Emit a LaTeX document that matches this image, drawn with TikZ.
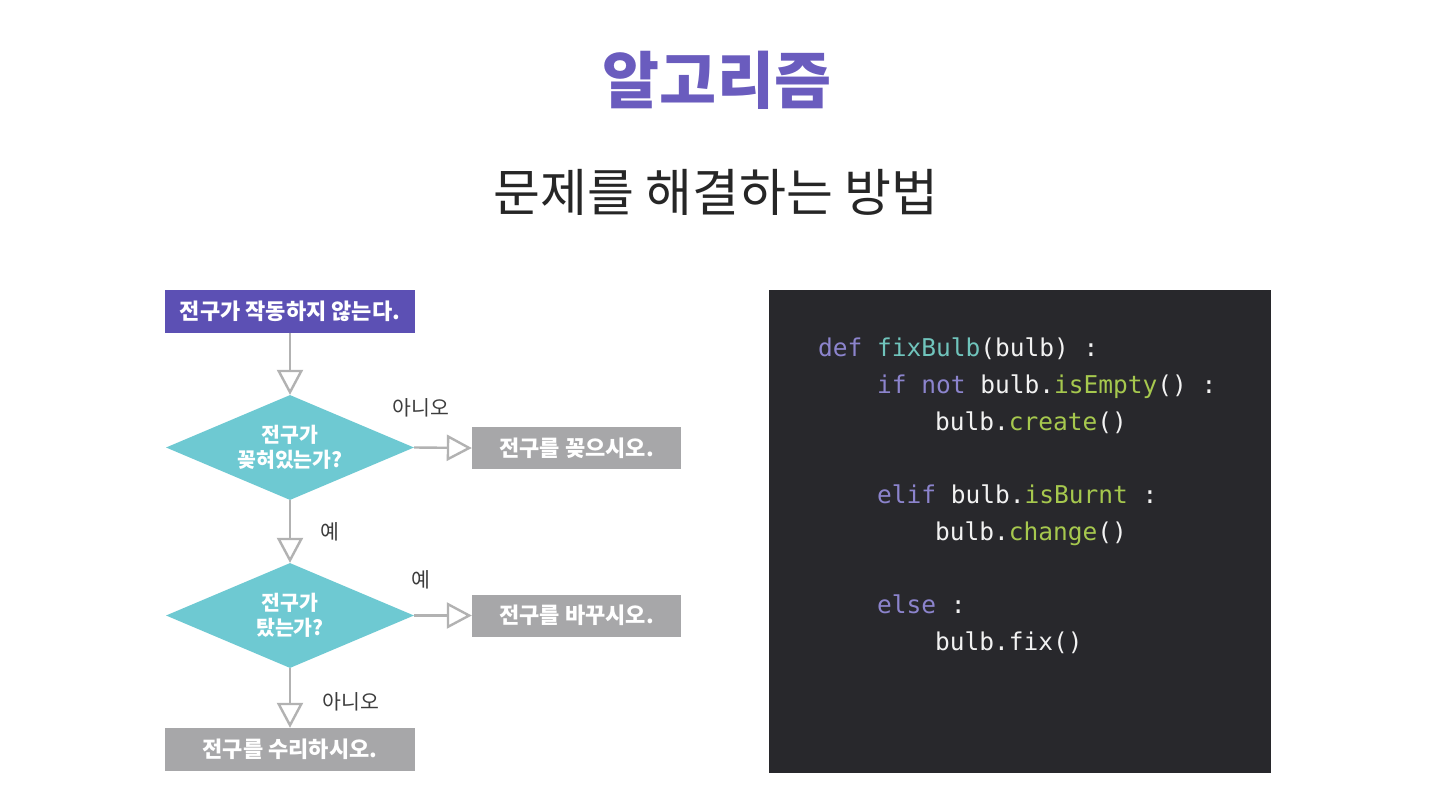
\documentclass[tikz,border=0pt]{standalone}
\usepackage{fontspec}
\setmainfont{Noto Sans CJK KR}
\newfontfamily\kr{Noto Sans CJK KR}
\newfontfamily\codefont{DejaVu Sans Mono}
\usetikzlibrary{shapes.geometric,arrows.meta}
\definecolor{titlepurple}{RGB}{106,92,190}
\definecolor{startfill}{RGB}{92,80,180}
\definecolor{teal}{RGB}{110,201,210}
\definecolor{boxgray}{RGB}{167,167,169}
\definecolor{arrowgray}{RGB}{178,178,178}
\definecolor{panel}{RGB}{40,40,44}
\definecolor{kw}{RGB}{140,132,205}
\definecolor{fn}{RGB}{112,196,188}
\definecolor{meth}{RGB}{166,200,78}
\definecolor{plain}{RGB}{242,242,242}
\definecolor{labelgray}{RGB}{60,60,60}
\tikzset{
  x=1pt, y=-1pt,
  rectbox/.style={rectangle, inner sep=0pt, minimum width=250pt, minimum height=43pt,
     text=white, font=\kr\bfseries\fontsize{22}{24}\selectfont},
  startbox/.style={rectbox, fill=startfill},
  endbox/.style={rectbox, fill=boxgray},
  sidebox/.style={rectbox, fill=boxgray, minimum width=209pt, minimum height=42pt},
  decision/.style={diamond, aspect=2.36, inner sep=0pt, minimum width=248pt, minimum height=105pt,
     fill=teal, text=white, align=center, font=\kr\bfseries\fontsize{20.5}{25}\selectfont},
  flow/.style={draw=arrowgray, line width=2.4pt,
     -{Triangle[open, length=25pt, width=26pt, fill=white, line width=2.4pt]}},
  flowlabel/.style={text=labelgray, font=\kr\fontsize{20.5}{22}\selectfont, inner sep=0pt},
  codeline/.style={anchor=base west, inner sep=0pt, text=plain, font=\codefont\fontsize{24.5}{28}\selectfont},
}
\newcommand{\kwd}[1]{\textcolor{kw}{#1}}
\newcommand{\fnm}[1]{\textcolor{fn}{#1}}
\newcommand{\mth}[1]{\textcolor{meth}{#1}}
\begin{document}
\begin{tikzpicture}
\useasboundingbox[fill=white] (0,0) rectangle (1438,808);
% titles
\node[text=titlepurple, font=\kr\bfseries\fontsize{62}{70}\selectfont, inner sep=0pt] (title) at (717,80) {알고리즘};
\node[text=black!85, font=\kr\fontsize{51}{56}\selectfont, inner sep=0pt] (subtitle) at (716,192) {문제를 해결하는 방법};
% flowchart
\node[startbox] (start) at (290,311.5) {전구가 작동하지 않는다.};
\node[decision] (d1) at (290,447.5) {전구가\\꽂혀있는가?};
\node[sidebox] (plug) at (576.5,448) {전구를 꽂으시오.};
\node[decision] (d2) at (290,615.5) {전구가\\탔는가?};
\node[sidebox] (change) at (576.5,615.5) {전구를 바꾸시오.};
\node[endbox] (repair) at (290,749.5) {전구를 수리하시오.};
\draw[flow] (start.south) -- (d1.north);
\draw[flow] (d1.east) -- (plug.west);
\draw[flow] (d1.south) -- (d2.north);
\draw[flow] (d2.east) -- (change.west);
\draw[flow] (d2.south) -- (repair.north);
\node[flowlabel] (l1) at (421,408) {아니오};
\node[flowlabel] (l2) at (330,532) {예};
\node[flowlabel] (l3) at (421,580) {예};
\node[flowlabel] (l4) at (351,702) {아니오};
% code panel
\node[fill=panel, inner sep=0pt, minimum width=502pt, minimum height=483pt, anchor=north west] (panel) at (769,290) {};
\node[codeline] (c1) at (818,356) {\kwd{def} \fnm{fixBulb}(bulb) :};
\node[codeline] (c2) at (877,393) {\kwd{if} \kwd{not} bulb.\mth{isEmpty}() :};
\node[codeline] (c3) at (935,430) {bulb.\mth{create}()};
\node[codeline] (c4) at (877,503) {\kwd{elif} bulb.\mth{isBurnt} :};
\node[codeline] (c5) at (935,540) {bulb.\mth{change}()};
\node[codeline] (c6) at (877,613) {\kwd{else} :};
\node[codeline] (c7) at (935,650) {bulb.fix()};
\end{tikzpicture}
\end{document}
